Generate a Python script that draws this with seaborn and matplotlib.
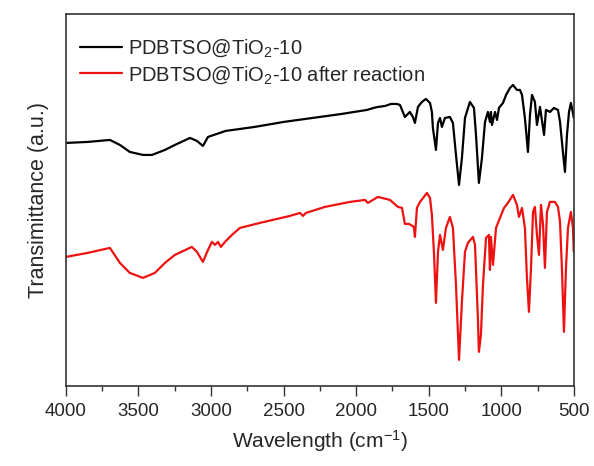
import pandas as pd
import matplotlib
matplotlib.use("Agg")
import matplotlib.pyplot as plt
import seaborn as sns
from matplotlib.ticker import MultipleLocator

# --- estilo ---
sns.set_style("white")
plt.rcParams['font.family'] = ['Liberation Sans', 'DejaVu Sans']
plt.rcParams['mathtext.fontset'] = 'custom'
plt.rcParams['mathtext.rm'] = 'Liberation Sans'
plt.rcParams['mathtext.it'] = 'Liberation Sans'

wn_before = [4000, 3850, 3697, 3628, 3560, 3469, 3407, 3318, 3249, 3145,
             3097, 3056, 3021, 2900, 2700, 2500, 2300, 2100, 1926, 1880,
             1850, 1800, 1760, 1719, 1698, 1664, 1630, 1609, 1595, 1574,
             1547, 1519, 1491, 1478, 1471, 1450, 1436, 1422, 1409, 1388,
             1354, 1333, 1312, 1291, 1271, 1250, 1216, 1188, 1174, 1154,
             1133, 1112, 1092, 1078, 1071, 1064, 1043, 1029, 1016, 988,
             967, 940, 919, 892, 871, 857, 837, 816, 802, 788,
             768, 754, 733, 705, 692, 664, 637, 609, 595, 575,
             561, 547, 533, 520, 506, 500]
t_before = [243, 244, 246, 241, 234, 231, 231, 236, 241, 248,
            245, 240, 249, 255, 259, 264, 268, 272, 276, 278,
            279, 280, 282, 282, 281, 269, 274, 269, 263, 279,
            284, 287, 283, 274, 258, 236, 263, 268, 259, 268,
            269, 263, 231, 201, 228, 268, 284, 278, 251, 203,
            228, 264, 274, 264, 274, 261, 274, 266, 278, 283,
            291, 298, 301, 296, 296, 291, 268, 234, 271, 291,
            284, 261, 279, 251, 276, 274, 278, 276, 264, 234,
            214, 251, 274, 283, 273, 268]

wn_after = [4000, 3850, 3697, 3628, 3560, 3469, 3387, 3318, 3249, 3132,
            3097, 3056, 3021, 2994, 2973, 2952, 2932, 2904, 2856, 2801,
            2663, 2456, 2387, 2367, 2346, 2215, 2043, 1939, 1919, 1850,
            1767, 1712, 1684, 1664, 1636, 1602, 1595, 1581, 1560, 1512,
            1491, 1478, 1464, 1450, 1436, 1422, 1402, 1381, 1354, 1333,
            1312, 1291, 1271, 1250, 1230, 1195, 1181, 1161, 1154, 1140,
            1126, 1105, 1085, 1078, 1071, 1057, 1036, 1009, 981, 954,
            919, 892, 878, 857, 837, 823, 809, 795, 781, 768,
            754, 740, 726, 712, 699, 685, 664, 630, 609, 595,
            582, 568, 554, 540, 520, 506, 500]
t_after = [129, 133, 138, 123, 113, 108, 113, 123, 131, 139,
           134, 124, 136, 144, 141, 144, 139, 144, 151, 158,
           163, 170, 173, 170, 173, 179, 184, 186, 183, 189,
           186, 179, 178, 162, 162, 159, 149, 178, 184, 193,
           188, 171, 134, 83, 134, 151, 136, 158, 169, 158,
           101, 26, 84, 134, 143, 149, 141, 68, 34, 51,
           101, 148, 151, 116, 149, 121, 158, 168, 178, 183,
           191, 181, 169, 178, 158, 108, 74, 118, 174, 179,
           151, 131, 181, 161, 118, 174, 184, 184, 179, 164,
           118, 54, 118, 158, 174, 158, 134]

label_before = 'PDBTSO@TiO$_2$-10'
label_after = 'PDBTSO@TiO$_2$-10 after reaction'

df_before = pd.DataFrame({'wn': wn_before, 't': t_before})
df_after = pd.DataFrame({'wn': wn_after, 't': t_after})

fig = plt.figure(figsize=(5.94, 4.66), dpi=100)
ax = fig.add_axes([0.111, 0.172, 0.855, 0.798])

sns.lineplot(data=df_before, x='wn', y='t', color='black', linewidth=1.6,
             label=label_before, ax=ax, sort=False)
sns.lineplot(data=df_after, x='wn', y='t', color='#ee1111', linewidth=1.6,
             label=label_after, ax=ax, sort=False)

ax.set_xlim(4000, 500)
ax.set_ylim(0, 372)
ax.xaxis.set_major_locator(MultipleLocator(500))
ax.xaxis.set_minor_locator(MultipleLocator(250))
ax.tick_params(axis='x', which='major', direction='out', length=7, width=1,
               labelsize=13.5, bottom=True, top=False, color='#333333', pad=5)
ax.tick_params(axis='x', which='minor', direction='out', length=3.5, width=1,
               bottom=True, top=False, color='#333333')
ax.set_yticks([])
for s in ax.spines.values():
    s.set_color('#333333')
    s.set_linewidth(1.2)

ax.set_xlabel('Wavelength (cm$^{-1}$)', fontsize=15, labelpad=6)
ax.set_ylabel('Transimittance (a.u.)', fontsize=15.5, labelpad=12)

ax.legend(loc='upper left', frameon=False, fontsize=14.5, handlelength=2.1,
          handletextpad=0.3, borderaxespad=0.3, labelspacing=0.25,
          bbox_to_anchor=(0.0, 0.975))

fig.savefig('out.png', dpi=100)
